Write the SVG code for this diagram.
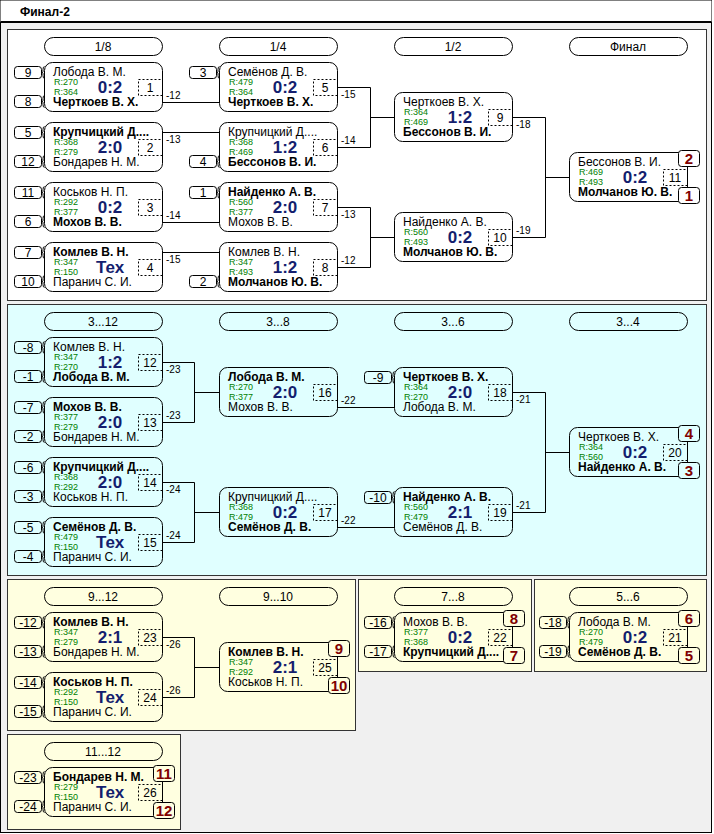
<svg xmlns="http://www.w3.org/2000/svg" xmlns:xlink="http://www.w3.org/1999/xlink" width="714" height="834" viewBox="0 0 714 834">
<style>
text{font-family:"Liberation Sans",Arial,sans-serif;fill:#000}
.box{fill:none;stroke:#000}
.dash{fill:none;stroke:#000;stroke-dasharray:2,2}
.pill{fill:none;stroke:#000}
.seed{fill:none;stroke:#000}
.ln{fill:none;stroke:#000}
.pw{stroke:#000;fill:#fff}
.pc{stroke:#000;fill:#e0ffff}
.py{stroke:#000;fill:#ffffe0}
.panel{stroke:#333}
.n{font-size:12px}
.b{font-weight:bold}
.r{font-size:9px;fill:#008000}
.sc{font-size:17px;font-weight:bold;fill:#141e6e;text-anchor:middle}
.mn{font-size:12px;text-anchor:middle}
.sd{font-size:12px;text-anchor:middle}
.pl{font-size:15px;font-weight:bold;fill:#800000;text-anchor:middle}
.hd{font-size:12px;text-anchor:middle}
.lb{font-size:10px}
</style>
<defs>
<path id="br" class="ln" d="M3,-6 Q1.5,-6 1.5,-3 V-1 Q1.5,0 0,0 Q1.5,0 1.5,1 V3 Q1.5,6 3,6"/>
</defs>

<g id="frame">
<rect x="0.5" y="0.5" width="711" height="832" fill="#f0f0f0" stroke="#000"/>
<rect x="0.5" y="0.5" width="711" height="21.5" fill="#fff" stroke="none"/>
<line x1="0.5" y1="22" x2="711.5" y2="22" stroke="#000" stroke-width="2"/>
<text x="20" y="16" class="n b">Финал-2</text>
</g>

<g id="panels">
<rect class="panel" x="7.5" y="29.5" width="699" height="271" fill="#fff"/>
<rect class="panel" x="7.5" y="304.5" width="699" height="271" fill="#e0ffff"/>
<rect class="panel" x="7.5" y="579.5" width="348" height="151" fill="#ffffe0"/>
<rect class="panel" x="358.5" y="579.5" width="173" height="92" fill="#ffffe0"/>
<rect class="panel" x="534.5" y="579.5" width="172" height="92" fill="#ffffe0"/>
<rect class="panel" x="7.5" y="734.5" width="173" height="95" fill="#ffffe0"/>
</g>

<g id="headers">
<rect class="pill" x="44.5" y="37.5" width="118" height="18" rx="9"/><text class="hd" x="103" y="51">1/8</text>
<rect class="pill" x="219.5" y="37.5" width="118" height="18" rx="9"/><text class="hd" x="278" y="51">1/4</text>
<rect class="pill" x="394.5" y="37.5" width="118" height="18" rx="9"/><text class="hd" x="453" y="51">1/2</text>
<rect class="pill" x="569.5" y="37.5" width="118" height="18" rx="9"/><text class="hd" x="628" y="51">Финал</text>
<rect class="pill" x="44.5" y="312.5" width="118" height="18" rx="9"/><text class="hd" x="103" y="326">3...12</text>
<rect class="pill" x="219.5" y="312.5" width="118" height="18" rx="9"/><text class="hd" x="278" y="326">3...8</text>
<rect class="pill" x="394.5" y="312.5" width="118" height="18" rx="9"/><text class="hd" x="453" y="326">3...6</text>
<rect class="pill" x="569.5" y="312.5" width="118" height="18" rx="9"/><text class="hd" x="628" y="326">3...4</text>
<rect class="pill" x="44.5" y="587.5" width="118" height="18" rx="9"/><text class="hd" x="103" y="601">9...12</text>
<rect class="pill" x="219.5" y="587.5" width="118" height="18" rx="9"/><text class="hd" x="278" y="601">9...10</text>
<rect class="pill" x="394.5" y="587.5" width="118" height="18" rx="9"/><text class="hd" x="453" y="601">7...8</text>
<rect class="pill" x="569.5" y="587.5" width="118" height="18" rx="9"/><text class="hd" x="628" y="601">5...6</text>
<rect class="pill" x="44.5" y="742.5" width="118" height="18" rx="9"/><text class="hd" x="103" y="756">11...12</text>
</g>

<g id="connectors">
<path class="ln" d="M162.5,102.5 H219.5 M162.5,132.5 H219.5 M162.5,222.5 H219.5 M162.5,252.5 H219.5"/>
<path class="ln" d="M337.5,87.5 H370.5 V147.5 H337.5 M370.5,117.5 H394.5"/>
<path class="ln" d="M337.5,207.5 H370.5 V267.5 H337.5 M370.5,237.5 H394.5"/>
<path class="ln" d="M512.5,117.5 H545.5 V237.5 H512.5 M545.5,177.5 H569.5"/>
<path class="ln" d="M162.5,362.5 H194.5 V422.5 H162.5 M194.5,392.5 H219.5"/>
<path class="ln" d="M162.5,482.5 H194.5 V542.5 H162.5 M194.5,512.5 H219.5"/>
<path class="ln" d="M337.5,407.5 H394.5 M337.5,527.5 H394.5"/>
<path class="ln" d="M512.5,392.5 H545.5 V512.5 H512.5 M545.5,452.5 H569.5"/>
<path class="ln" d="M162.5,637.5 H194.5 V697.5 H162.5 M194.5,667.5 H219.5"/>
<text class="lb" x="166" y="99">-12</text>
<text class="lb" x="166" y="143">-13</text>
<text class="lb" x="166" y="219">-14</text>
<text class="lb" x="166" y="263">-15</text>
<text class="lb" x="341" y="98">-15</text>
<text class="lb" x="341" y="144">-14</text>
<text class="lb" x="341" y="218">-13</text>
<text class="lb" x="341" y="264">-12</text>
<text class="lb" x="516" y="128">-18</text>
<text class="lb" x="516" y="234">-19</text>
<text class="lb" x="166" y="373">-23</text>
<text class="lb" x="166" y="419">-23</text>
<text class="lb" x="166" y="493">-24</text>
<text class="lb" x="166" y="539">-24</text>
<text class="lb" x="341" y="404">-22</text>
<text class="lb" x="341" y="524">-22</text>
<text class="lb" x="516" y="403">-21</text>
<text class="lb" x="516" y="509">-21</text>
<text class="lb" x="166" y="648">-26</text>
<text class="lb" x="166" y="694">-26</text>
</g>

<g id="seeds">
<g id="s-9"><rect class="seed" x="14.5" y="66.5" width="27" height="12" rx="3"/><text class="sd" x="28" y="77">9</text><use xlink:href="#br" x="41.5" y="72.5"/></g>
<g id="s-8"><rect class="seed" x="14.5" y="95.5" width="27" height="12" rx="3"/><text class="sd" x="28" y="106">8</text><use xlink:href="#br" x="41.5" y="101.5"/></g>
<g id="s-5"><rect class="seed" x="14.5" y="126.5" width="27" height="12" rx="3"/><text class="sd" x="28" y="137">5</text><use xlink:href="#br" x="41.5" y="132.5"/></g>
<g id="s-12"><rect class="seed" x="14.5" y="155.5" width="27" height="12" rx="3"/><text class="sd" x="28" y="166">12</text><use xlink:href="#br" x="41.5" y="161.5"/></g>
<g id="s-11"><rect class="seed" x="14.5" y="186.5" width="27" height="12" rx="3"/><text class="sd" x="28" y="197">11</text><use xlink:href="#br" x="41.5" y="192.5"/></g>
<g id="s-6"><rect class="seed" x="14.5" y="215.5" width="27" height="12" rx="3"/><text class="sd" x="28" y="226">6</text><use xlink:href="#br" x="41.5" y="221.5"/></g>
<g id="s-7"><rect class="seed" x="14.5" y="246.5" width="27" height="12" rx="3"/><text class="sd" x="28" y="257">7</text><use xlink:href="#br" x="41.5" y="252.5"/></g>
<g id="s-10"><rect class="seed" x="14.5" y="275.5" width="27" height="12" rx="3"/><text class="sd" x="28" y="286">10</text><use xlink:href="#br" x="41.5" y="281.5"/></g>
<g id="s-3"><rect class="seed" x="189.5" y="66.5" width="27" height="12" rx="3"/><text class="sd" x="203" y="77">3</text><use xlink:href="#br" x="216.5" y="72.5"/></g>
<g id="s-4"><rect class="seed" x="189.5" y="155.5" width="27" height="12" rx="3"/><text class="sd" x="203" y="166">4</text><use xlink:href="#br" x="216.5" y="161.5"/></g>
<g id="s-1"><rect class="seed" x="189.5" y="186.5" width="27" height="12" rx="3"/><text class="sd" x="203" y="197">1</text><use xlink:href="#br" x="216.5" y="192.5"/></g>
<g id="s-2"><rect class="seed" x="189.5" y="275.5" width="27" height="12" rx="3"/><text class="sd" x="203" y="286">2</text><use xlink:href="#br" x="216.5" y="281.5"/></g>
<g id="s-m8"><rect class="seed" x="14.5" y="341.5" width="27" height="12" rx="3"/><text class="sd" x="28" y="352">-8</text><use xlink:href="#br" x="41.5" y="347.5"/></g>
<g id="s-m1"><rect class="seed" x="14.5" y="370.5" width="27" height="12" rx="3"/><text class="sd" x="28" y="381">-1</text><use xlink:href="#br" x="41.5" y="376.5"/></g>
<g id="s-m7"><rect class="seed" x="14.5" y="401.5" width="27" height="12" rx="3"/><text class="sd" x="28" y="412">-7</text><use xlink:href="#br" x="41.5" y="407.5"/></g>
<g id="s-m2"><rect class="seed" x="14.5" y="430.5" width="27" height="12" rx="3"/><text class="sd" x="28" y="441">-2</text><use xlink:href="#br" x="41.5" y="436.5"/></g>
<g id="s-m6"><rect class="seed" x="14.5" y="461.5" width="27" height="12" rx="3"/><text class="sd" x="28" y="472">-6</text><use xlink:href="#br" x="41.5" y="467.5"/></g>
<g id="s-m3"><rect class="seed" x="14.5" y="490.5" width="27" height="12" rx="3"/><text class="sd" x="28" y="501">-3</text><use xlink:href="#br" x="41.5" y="496.5"/></g>
<g id="s-m5"><rect class="seed" x="14.5" y="521.5" width="27" height="12" rx="3"/><text class="sd" x="28" y="532">-5</text><use xlink:href="#br" x="41.5" y="527.5"/></g>
<g id="s-m4"><rect class="seed" x="14.5" y="550.5" width="27" height="12" rx="3"/><text class="sd" x="28" y="561">-4</text><use xlink:href="#br" x="41.5" y="556.5"/></g>
<g id="s-m9"><rect class="seed" x="364.5" y="371.5" width="27" height="12" rx="3"/><text class="sd" x="378" y="382">-9</text><use xlink:href="#br" x="391.5" y="377.5"/></g>
<g id="s-m10"><rect class="seed" x="364.5" y="491.5" width="27" height="12" rx="3"/><text class="sd" x="378" y="502">-10</text><use xlink:href="#br" x="391.5" y="497.5"/></g>
<g id="s-m12"><rect class="seed" x="14.5" y="616.5" width="27" height="12" rx="3"/><text class="sd" x="28" y="627">-12</text><use xlink:href="#br" x="41.5" y="622.5"/></g>
<g id="s-m13"><rect class="seed" x="14.5" y="645.5" width="27" height="12" rx="3"/><text class="sd" x="28" y="656">-13</text><use xlink:href="#br" x="41.5" y="651.5"/></g>
<g id="s-m14"><rect class="seed" x="14.5" y="676.5" width="27" height="12" rx="3"/><text class="sd" x="28" y="687">-14</text><use xlink:href="#br" x="41.5" y="682.5"/></g>
<g id="s-m15"><rect class="seed" x="14.5" y="705.5" width="27" height="12" rx="3"/><text class="sd" x="28" y="716">-15</text><use xlink:href="#br" x="41.5" y="711.5"/></g>
<g id="s-m16"><rect class="seed" x="364.5" y="616.5" width="27" height="12" rx="3"/><text class="sd" x="378" y="627">-16</text><use xlink:href="#br" x="391.5" y="622.5"/></g>
<g id="s-m17"><rect class="seed" x="364.5" y="645.5" width="27" height="12" rx="3"/><text class="sd" x="378" y="656">-17</text><use xlink:href="#br" x="391.5" y="651.5"/></g>
<g id="s-m18"><rect class="seed" x="539.5" y="616.5" width="27" height="12" rx="3"/><text class="sd" x="553" y="627">-18</text><use xlink:href="#br" x="566.5" y="622.5"/></g>
<g id="s-m19"><rect class="seed" x="539.5" y="645.5" width="27" height="12" rx="3"/><text class="sd" x="553" y="656">-19</text><use xlink:href="#br" x="566.5" y="651.5"/></g>
<g id="s-m23"><rect class="seed" x="14.5" y="771.5" width="27" height="12" rx="3"/><text class="sd" x="28" y="782">-23</text><use xlink:href="#br" x="41.5" y="777.5"/></g>
<g id="s-m24"><rect class="seed" x="14.5" y="800.5" width="27" height="12" rx="3"/><text class="sd" x="28" y="811">-24</text><use xlink:href="#br" x="41.5" y="806.5"/></g>
</g>

<g id="match-1"><rect class="box" x="44.5" y="62.5" width="118" height="49" rx="8"/><rect class="dash" x="138.5" y="79.5" width="24" height="16"/>
<text class="n" x="53" y="76">Лобода В. М.</text><text class="r" x="54" y="85">R:270</text><text class="r" x="54" y="95">R:364</text><text class="n b" x="53" y="106">Черткоев В. Х.</text><text class="sc" x="110" y="93">0:2</text><text class="mn" x="150" y="92">1</text></g>
<g id="match-2"><rect class="box" x="44.5" y="122.5" width="118" height="49" rx="8"/><rect class="dash" x="138.5" y="139.5" width="24" height="16"/>
<text class="n b" x="53" y="136">Крупчицкий Д....</text><text class="r" x="54" y="145">R:368</text><text class="r" x="54" y="155">R:279</text><text class="n" x="53" y="166">Бондарев Н. М.</text><text class="sc" x="110" y="153">2:0</text><text class="mn" x="150" y="152">2</text></g>
<g id="match-3"><rect class="box" x="44.5" y="182.5" width="118" height="49" rx="8"/><rect class="dash" x="138.5" y="199.5" width="24" height="16"/>
<text class="n" x="53" y="196">Коськов Н. П.</text><text class="r" x="54" y="205">R:292</text><text class="r" x="54" y="215">R:377</text><text class="n b" x="53" y="226">Мохов В. В.</text><text class="sc" x="110" y="213">0:2</text><text class="mn" x="150" y="212">3</text></g>
<g id="match-4"><rect class="box" x="44.5" y="242.5" width="118" height="49" rx="8"/><rect class="dash" x="138.5" y="259.5" width="24" height="16"/>
<text class="n b" x="53" y="256">Комлев В. Н.</text><text class="r" x="54" y="265">R:347</text><text class="r" x="54" y="275">R:150</text><text class="n" x="53" y="286">Паранич С. И.</text><text class="sc" x="110" y="273">Тех</text><text class="mn" x="150" y="272">4</text></g>
<g id="match-5"><rect class="box" x="219.5" y="62.5" width="118" height="49" rx="8"/><rect class="dash" x="313.5" y="79.5" width="24" height="16"/>
<text class="n" x="228" y="76">Семёнов Д. В.</text><text class="r" x="229" y="85">R:479</text><text class="r" x="229" y="95">R:364</text><text class="n b" x="228" y="106">Черткоев В. Х.</text><text class="sc" x="285" y="93">0:2</text><text class="mn" x="325" y="92">5</text></g>
<g id="match-6"><rect class="box" x="219.5" y="122.5" width="118" height="49" rx="8"/><rect class="dash" x="313.5" y="139.5" width="24" height="16"/>
<text class="n" x="228" y="136">Крупчицкий Д....</text><text class="r" x="229" y="145">R:368</text><text class="r" x="229" y="155">R:469</text><text class="n b" x="228" y="166">Бессонов В. И.</text><text class="sc" x="285" y="153">1:2</text><text class="mn" x="325" y="152">6</text></g>
<g id="match-7"><rect class="box" x="219.5" y="182.5" width="118" height="49" rx="8"/><rect class="dash" x="313.5" y="199.5" width="24" height="16"/>
<text class="n b" x="228" y="196">Найденко А. В.</text><text class="r" x="229" y="205">R:560</text><text class="r" x="229" y="215">R:377</text><text class="n" x="228" y="226">Мохов В. В.</text><text class="sc" x="285" y="213">2:0</text><text class="mn" x="325" y="212">7</text></g>
<g id="match-8"><rect class="box" x="219.5" y="242.5" width="118" height="49" rx="8"/><rect class="dash" x="313.5" y="259.5" width="24" height="16"/>
<text class="n" x="228" y="256">Комлев В. Н.</text><text class="r" x="229" y="265">R:347</text><text class="r" x="229" y="275">R:493</text><text class="n b" x="228" y="286">Молчанов Ю. В.</text><text class="sc" x="285" y="273">1:2</text><text class="mn" x="325" y="272">8</text></g>
<g id="match-9"><rect class="box" x="394.5" y="92.5" width="118" height="49" rx="8"/><rect class="dash" x="488.5" y="109.5" width="24" height="16"/>
<text class="n" x="403" y="106">Черткоев В. Х.</text><text class="r" x="404" y="115">R:364</text><text class="r" x="404" y="125">R:469</text><text class="n b" x="403" y="136">Бессонов В. И.</text><text class="sc" x="460" y="123">1:2</text><text class="mn" x="500" y="122">9</text></g>
<g id="match-10"><rect class="box" x="394.5" y="212.5" width="118" height="49" rx="8"/><rect class="dash" x="488.5" y="229.5" width="24" height="16"/>
<text class="n" x="403" y="226">Найденко А. В.</text><text class="r" x="404" y="235">R:560</text><text class="r" x="404" y="245">R:493</text><text class="n b" x="403" y="256">Молчанов Ю. В.</text><text class="sc" x="460" y="243">0:2</text><text class="mn" x="500" y="242">10</text></g>
<g id="match-11"><rect class="box" x="569.5" y="152.5" width="118" height="49" rx="8"/><rect class="dash" x="663.5" y="169.5" width="24" height="16"/>
<text class="n" x="578" y="166">Бессонов В. И.</text><text class="r" x="579" y="175">R:469</text><text class="r" x="579" y="185">R:493</text><text class="n b" x="578" y="196">Молчанов Ю. В.</text><text class="sc" x="635" y="183">0:2</text><text class="mn" x="675" y="182">11</text>
<rect class="pw" x="678.5" y="150.5" width="21" height="16" rx="3"/><text class="pl" x="689" y="164">2</text>
<rect class="pw" x="678.5" y="187.5" width="21" height="16" rx="3"/><text class="pl" x="689" y="201">1</text></g>

<g id="match-12"><rect class="box" x="44.5" y="337.5" width="118" height="49" rx="8"/><rect class="dash" x="138.5" y="354.5" width="24" height="16"/>
<text class="n" x="53" y="351">Комлев В. Н.</text><text class="r" x="54" y="360">R:347</text><text class="r" x="54" y="370">R:270</text><text class="n b" x="53" y="381">Лобода В. М.</text><text class="sc" x="110" y="368">1:2</text><text class="mn" x="150" y="367">12</text></g>
<g id="match-13"><rect class="box" x="44.5" y="397.5" width="118" height="49" rx="8"/><rect class="dash" x="138.5" y="414.5" width="24" height="16"/>
<text class="n b" x="53" y="411">Мохов В. В.</text><text class="r" x="54" y="420">R:377</text><text class="r" x="54" y="430">R:279</text><text class="n" x="53" y="441">Бондарев Н. М.</text><text class="sc" x="110" y="428">2:0</text><text class="mn" x="150" y="427">13</text></g>
<g id="match-14"><rect class="box" x="44.5" y="457.5" width="118" height="49" rx="8"/><rect class="dash" x="138.5" y="474.5" width="24" height="16"/>
<text class="n b" x="53" y="471">Крупчицкий Д....</text><text class="r" x="54" y="480">R:368</text><text class="r" x="54" y="490">R:292</text><text class="n" x="53" y="501">Коськов Н. П.</text><text class="sc" x="110" y="488">2:0</text><text class="mn" x="150" y="487">14</text></g>
<g id="match-15"><rect class="box" x="44.5" y="517.5" width="118" height="49" rx="8"/><rect class="dash" x="138.5" y="534.5" width="24" height="16"/>
<text class="n b" x="53" y="531">Семёнов Д. В.</text><text class="r" x="54" y="540">R:479</text><text class="r" x="54" y="550">R:150</text><text class="n" x="53" y="561">Паранич С. И.</text><text class="sc" x="110" y="548">Тех</text><text class="mn" x="150" y="547">15</text></g>
<g id="match-16"><rect class="box" x="219.5" y="367.5" width="118" height="49" rx="8"/><rect class="dash" x="313.5" y="384.5" width="24" height="16"/>
<text class="n b" x="228" y="381">Лобода В. М.</text><text class="r" x="229" y="390">R:270</text><text class="r" x="229" y="400">R:377</text><text class="n" x="228" y="411">Мохов В. В.</text><text class="sc" x="285" y="398">2:0</text><text class="mn" x="325" y="397">16</text></g>
<g id="match-17"><rect class="box" x="219.5" y="487.5" width="118" height="49" rx="8"/><rect class="dash" x="313.5" y="504.5" width="24" height="16"/>
<text class="n" x="228" y="501">Крупчицкий Д....</text><text class="r" x="229" y="510">R:368</text><text class="r" x="229" y="520">R:479</text><text class="n b" x="228" y="531">Семёнов Д. В.</text><text class="sc" x="285" y="518">0:2</text><text class="mn" x="325" y="517">17</text></g>
<g id="match-18"><rect class="box" x="394.5" y="367.5" width="118" height="49" rx="8"/><rect class="dash" x="488.5" y="384.5" width="24" height="16"/>
<text class="n b" x="403" y="381">Черткоев В. Х.</text><text class="r" x="404" y="390">R:364</text><text class="r" x="404" y="400">R:270</text><text class="n" x="403" y="411">Лобода В. М.</text><text class="sc" x="460" y="398">2:0</text><text class="mn" x="500" y="397">18</text></g>
<g id="match-19"><rect class="box" x="394.5" y="487.5" width="118" height="49" rx="8"/><rect class="dash" x="488.5" y="504.5" width="24" height="16"/>
<text class="n b" x="403" y="501">Найденко А. В.</text><text class="r" x="404" y="510">R:560</text><text class="r" x="404" y="520">R:479</text><text class="n" x="403" y="531">Семёнов Д. В.</text><text class="sc" x="460" y="518">2:1</text><text class="mn" x="500" y="517">19</text></g>
<g id="match-20"><rect class="box" x="569.5" y="427.5" width="118" height="49" rx="8"/><rect class="dash" x="663.5" y="444.5" width="24" height="16"/>
<text class="n" x="578" y="441">Черткоев В. Х.</text><text class="r" x="579" y="450">R:364</text><text class="r" x="579" y="460">R:560</text><text class="n b" x="578" y="471">Найденко А. В.</text><text class="sc" x="635" y="458">0:2</text><text class="mn" x="675" y="457">20</text>
<rect class="pc" x="678.5" y="425.5" width="21" height="16" rx="3"/><text class="pl" x="689" y="439">4</text>
<rect class="pc" x="678.5" y="462.5" width="21" height="16" rx="3"/><text class="pl" x="689" y="476">3</text></g>

<g id="match-23"><rect class="box" x="44.5" y="612.5" width="118" height="49" rx="8"/><rect class="dash" x="138.5" y="629.5" width="24" height="16"/>
<text class="n b" x="53" y="626">Комлев В. Н.</text><text class="r" x="54" y="635">R:347</text><text class="r" x="54" y="645">R:279</text><text class="n" x="53" y="656">Бондарев Н. М.</text><text class="sc" x="110" y="643">2:1</text><text class="mn" x="150" y="642">23</text></g>
<g id="match-24"><rect class="box" x="44.5" y="672.5" width="118" height="49" rx="8"/><rect class="dash" x="138.5" y="689.5" width="24" height="16"/>
<text class="n b" x="53" y="686">Коськов Н. П.</text><text class="r" x="54" y="695">R:292</text><text class="r" x="54" y="705">R:150</text><text class="n" x="53" y="716">Паранич С. И.</text><text class="sc" x="110" y="703">Тех</text><text class="mn" x="150" y="702">24</text></g>
<g id="match-25"><rect class="box" x="219.5" y="642.5" width="118" height="49" rx="8"/><rect class="dash" x="313.5" y="659.5" width="24" height="16"/>
<text class="n b" x="228" y="656">Комлев В. Н.</text><text class="r" x="229" y="665">R:347</text><text class="r" x="229" y="675">R:292</text><text class="n" x="228" y="686">Коськов Н. П.</text><text class="sc" x="285" y="673">2:1</text><text class="mn" x="325" y="672">25</text>
<rect class="py" x="328.5" y="640.5" width="21" height="16" rx="3"/><text class="pl" x="339" y="654">9</text>
<rect class="py" x="328.5" y="677.5" width="21" height="16" rx="3"/><text class="pl" x="339" y="691">10</text></g>
<g id="match-22"><rect class="box" x="394.5" y="612.5" width="118" height="49" rx="8"/><rect class="dash" x="488.5" y="629.5" width="24" height="16"/>
<text class="n" x="403" y="626">Мохов В. В.</text><text class="r" x="404" y="635">R:377</text><text class="r" x="404" y="645">R:368</text><text class="n b" x="403" y="656">Крупчицкий Д....</text><text class="sc" x="460" y="643">0:2</text><text class="mn" x="500" y="642">22</text>
<rect class="py" x="503.5" y="610.5" width="21" height="16" rx="3"/><text class="pl" x="514" y="624">8</text>
<rect class="py" x="503.5" y="647.5" width="21" height="16" rx="3"/><text class="pl" x="514" y="661">7</text></g>
<g id="match-21"><rect class="box" x="569.5" y="612.5" width="118" height="49" rx="8"/><rect class="dash" x="663.5" y="629.5" width="24" height="16"/>
<text class="n" x="578" y="626">Лобода В. М.</text><text class="r" x="579" y="635">R:270</text><text class="r" x="579" y="645">R:479</text><text class="n b" x="578" y="656">Семёнов Д. В.</text><text class="sc" x="635" y="643">0:2</text><text class="mn" x="675" y="642">21</text>
<rect class="py" x="678.5" y="610.5" width="21" height="16" rx="3"/><text class="pl" x="689" y="624">6</text>
<rect class="py" x="678.5" y="647.5" width="21" height="16" rx="3"/><text class="pl" x="689" y="661">5</text></g>
<g id="match-26"><rect class="box" x="44.5" y="767.5" width="118" height="49" rx="8"/><rect class="dash" x="138.5" y="784.5" width="24" height="16"/>
<text class="n b" x="53" y="781">Бондарев Н. М.</text><text class="r" x="54" y="790">R:279</text><text class="r" x="54" y="800">R:150</text><text class="n" x="53" y="811">Паранич С. И.</text><text class="sc" x="110" y="798">Тех</text><text class="mn" x="150" y="797">26</text>
<rect class="py" x="153.5" y="765.5" width="21" height="16" rx="3"/><text class="pl" x="164" y="779">11</text>
<rect class="py" x="153.5" y="802.5" width="21" height="16" rx="3"/><text class="pl" x="164" y="816">12</text></g>
</svg>
